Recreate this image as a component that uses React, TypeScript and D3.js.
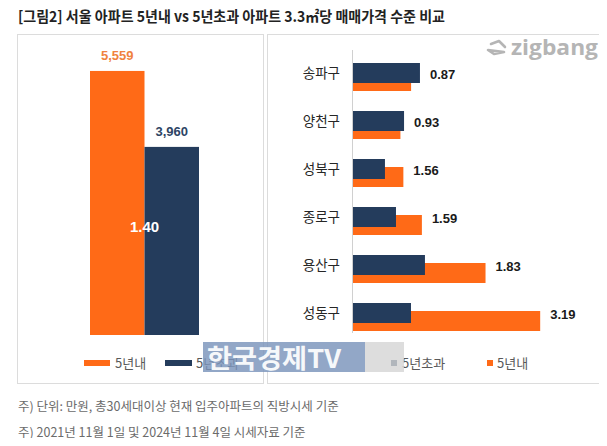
import React from "react";
import * as d3 from "d3";

const title = "[그림2] 서울 아파트 5년내 vs 5년초과 아파트 3.3㎡당 매매가격 수준 비교";
const seriesLeft = ["5년내", "5년초과"];
const seoulValues = [5559, 3960];
const seoulValueLabels = ["5,559", "3,960"];
const seoulRatioLabel = "1.40";

const districts = ["송파구", "양천구", "성북구", "종로구", "용산구", "성동구"];
const over5 = [5980, 4580, 2900, 3870, 6420, 5190];
const within5 = [5200, 4260, 4520, 6150, 11750, 16560];
const ratioLabels = ["0.87", "0.93", "1.56", "1.59", "1.83", "3.19"];

const footnotes = [
  "주) 단위: 만원, 총30세대이상 현재 입주아파트의 직방시세 기준",
  "주) 2021년 11월 1일 및 2024년 11월 4일 시세자료 기준",
];

const ORANGE = "#ff6a17";
const NAVY = "#243c5c";
const KR = "'Noto Sans CJK KR', 'Noto Sans', sans-serif";
const NUM = "'Liberation Sans', Arial, sans-serif";

export default function App() {
  const W = 607, H = 446;
  const xl = d3.scaleBand().domain(seriesLeft).range([90, 199]).padding(0);
  const yl = d3.scaleLinear().domain([0, 6000]).range([335, 50]);
  const leftColors = [ORANGE, NAVY];
  const leftLabelColors = ["#f0823e", "#2d4464"];

  const yb = d3.scaleBand().domain(districts).range([55, 343]).padding(0);
  const xr = d3.scaleLinear().domain([0, 18000]).range([352, 352 + 18000 / 88]);
  const barH = 20;

  return (
    <div style={{ margin: -8, width: W, height: H, background: "#fff" }}>
      <svg width={W} height={H} style={{ display: "block" }}>
        <rect width={W} height={H} fill="#fff" />
        <text x={18} y={22} fontFamily={KR} fontSize={15} fontWeight={700} fill="#222"
          textLength={427} lengthAdjust="spacingAndGlyphs">{title}</text>

        <rect x={17.5} y={34.5} width={246} height={349} fill="none" stroke="#dcdcdc" />
        <rect x={267.5} y={34.5} width={335} height={349} fill="none" stroke="#dcdcdc" />

        {seriesLeft.map((s, i) => (
          <rect key={s} x={xl(s)} y={yl(seoulValues[i])} width={xl.bandwidth()}
            height={yl(0) - yl(seoulValues[i])} fill={leftColors[i]} />
        ))}
        {seriesLeft.map((s, i) => (
          <text key={"l" + s} x={(xl(s) as number) + xl.bandwidth() / 2} y={yl(seoulValues[i]) - 11}
            textAnchor="middle" fontFamily={NUM} fontWeight={700} fontSize={13} fill={leftLabelColors[i]}>
            {seoulValueLabels[i]}
          </text>
        ))}
        <text x={xl("5년초과") as number} y={232} textAnchor="middle" fontFamily={NUM}
          fontWeight={700} fontSize={15} fill="#fff">{seoulRatioLabel}</text>

        <rect x={84} y={360} width={26} height={6} fill={ORANGE} />
        <text x={115} y={368} fontFamily={KR} fontSize={13} fill="#595959">{seriesLeft[0]}</text>
        <rect x={165} y={360} width={27} height={6} fill={NAVY} />
        <text x={196} y={368} fontFamily={KR} fontSize={13} fill="#595959">{seriesLeft[1]}</text>

        {districts.map((d, i) => {
          const y0 = yb(d) as number;
          return (
            <g key={d}>
              <rect x={xr(0)} y={y0 + 16} width={xr(within5[i]) - xr(0)} height={barH} fill={ORANGE} />
              <rect x={xr(0)} y={y0 + 8} width={xr(over5[i]) - xr(0)} height={barH} fill={NAVY} />
              <text x={340} y={y0 + 23} textAnchor="end" fontFamily={KR} fontSize={13.5} fill="#262626">{d}</text>
              <text x={xr(Math.max(over5[i], within5[i])) + 10} y={y0 + 24} fontFamily={NUM}
                fontWeight={700} fontSize={13} fill="#1a1a1a">{ratioLabels[i]}</text>
            </g>
          );
        })}
        <line x1={352.5} x2={352.5} y1={50} y2={333} stroke="#d0d0d0" />

        <rect x={391} y={360} width={6} height={6} fill={NAVY} />
        <text x={402} y={368} fontFamily={KR} fontSize={13} fill="#595959">5년초과</text>
        <rect x={487} y={360} width={6} height={6} fill={ORANGE} />
        <text x={497} y={368} fontFamily={KR} fontSize={13} fill="#595959">5년내</text>

        <g stroke="#b5b5b5" strokeWidth={2.6} fill="none" strokeLinejoin="round" strokeLinecap="round">
          <path d="M491,44 L499,41 L505,47 M504,52 L494,54 L488,50 Z" />
        </g>
        <text x={511} y={55} fontFamily="'Open Sans', sans-serif" fontWeight={700} fontSize={21}
          fill="#b5b5b5" textLength={87} lengthAdjust="spacingAndGlyphs">zigbang</text>

        <rect x={203} y={342} width={162} height={30} fill="#7a94bb" opacity={0.82} />
        <rect x={365} y={342} width={39} height={30} fill="#d4d4d4" opacity={0.8} />
        <text x={207} y={368} fontFamily={KR} fontWeight={700} fontSize={26} fill="#fff" opacity={0.92}
          textLength={134} lengthAdjust="spacingAndGlyphs">한국경제TV</text>

        {footnotes.map((f, i) => (
          <text key={i} x={18} y={411 + i * 26} fontFamily={KR} fontSize={12.5} fill="#6b6b6b">{f}</text>
        ))}
      </svg>
    </div>
  );
}
